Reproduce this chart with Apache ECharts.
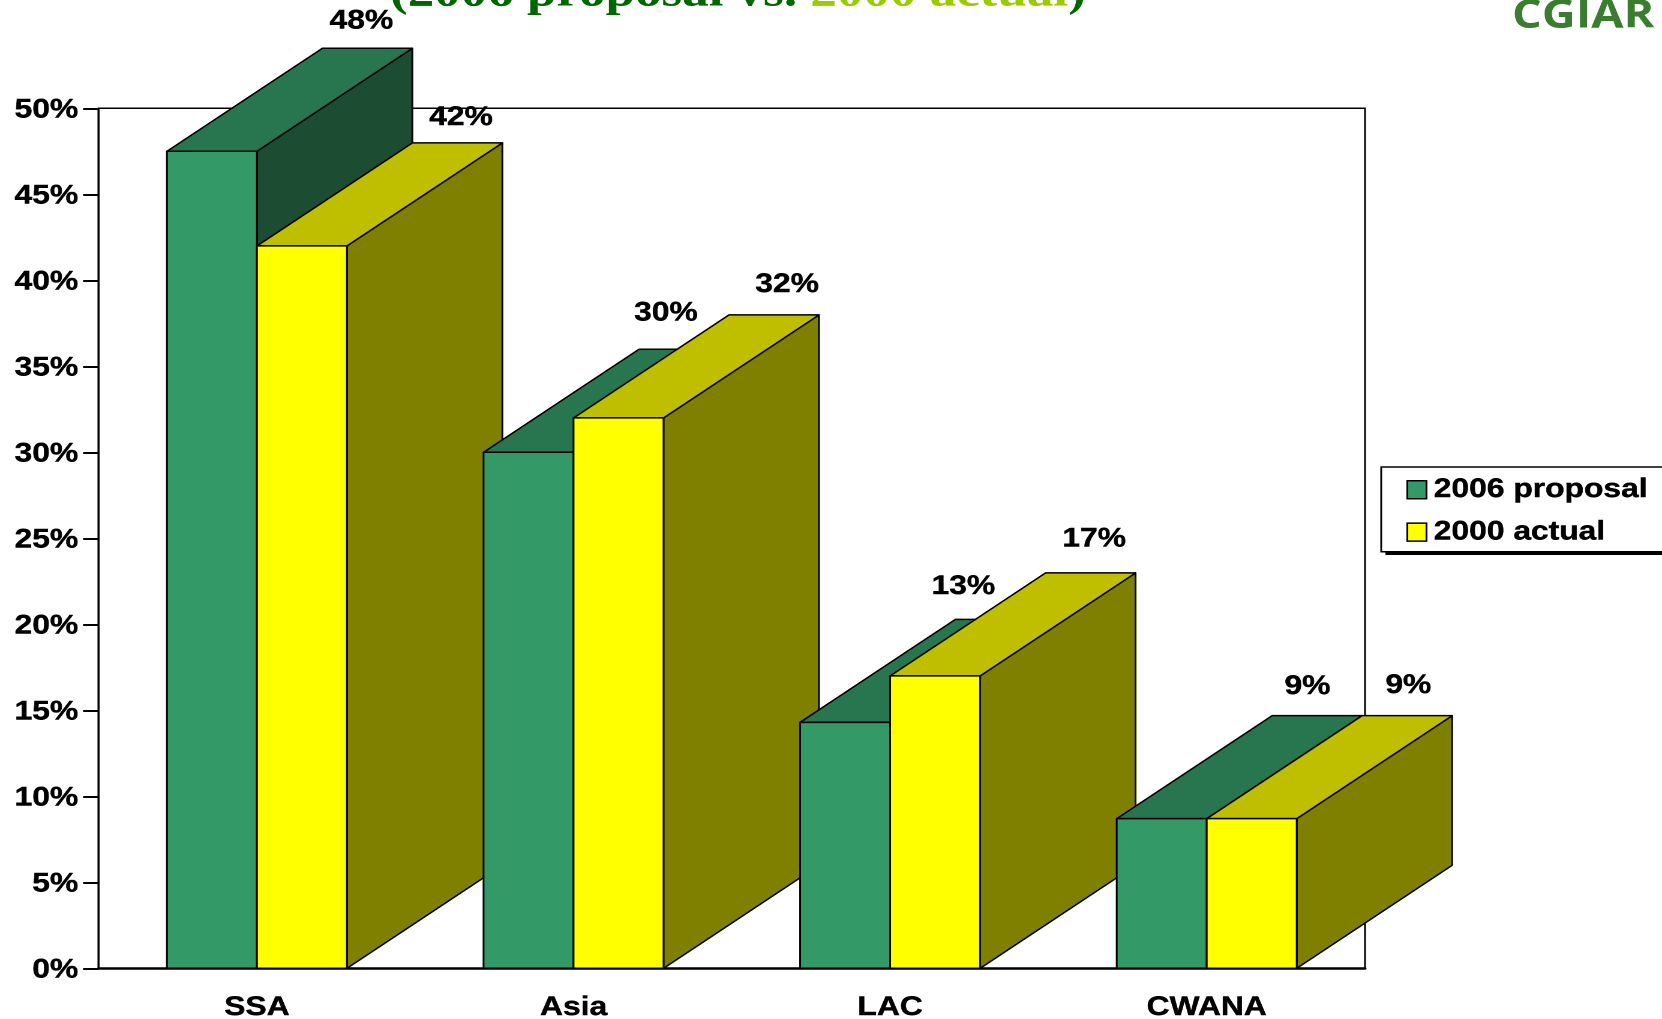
<!DOCTYPE html>
<html>
<head>
<meta charset="utf-8">
<style>
html,body{margin:0;padding:0;background:#fff;overflow:hidden;width:1662px;height:1019px}
#c{width:1385px;height:1019px;transform-origin:0 0;transform:scaleX(1.2)}
</style>
<script src="https://cdn.jsdelivr.net/npm/echarts@6/dist/echarts.min.js"></script>
</head>
<body>
<div id="c"></div>
<script>
const categories = ['SSA', 'Asia', 'LAC', 'CWANA'];
const yTicks = { min: 0, max: 50, interval: 5 };
const proposal2006 = [47.5, 30, 14.3, 8.7];
const actual2000 = [42, 32, 17, 8.7];
const proposalLabels = ['48%', '30%', '13%', '9%'];
const actualLabels = ['42%', '32%', '17%', '9%'];

const FONT = '"Liberation Sans", Arial, sans-serif';
const FS = 26.5;
const HEAVY = { textBorderColor: '#000', textBorderWidth: 0.4 };
const BAR_FRAC = 0.2843, DX = 129.5, DY = 103;
// label nudges relative to the centre of the bar's back top edge
const proposalNudge = [[-5, -27], [-15, -36], [-31, -32.5], [-8, -29]];
const actualNudge = [[3, -25], [11, -30], [3, -33.5], [1, -30]];

function barRenderer(side, palette, labels, nudges, layer) {
  return function (params, api) {
    const i = api.value(0);
    const top = api.coord([i, api.value(1)]);
    const base = api.coord([i, 0]);
    const w = api.size([1, 0])[0] * BAR_FRAC;
    const x0 = side < 0 ? top[0] - w : top[0];
    const x1 = x0 + w, yt = top[1], yb = base[1];
    const z = i * 10 + layer;
    const st = (fill) => ({ fill, stroke: '#000', lineWidth: 1.5, lineJoin: 'round' });
    const poly = (points, fill) => ({ type: 'polygon', z2: z, shape: { points }, style: st(fill) });
    return {
      type: 'group',
      children: [
        poly([[x1, yt], [x1 + DX, yt - DY], [x1 + DX, yb - DY], [x1, yb]], palette.side),
        poly([[x0, yt], [x0 + DX, yt - DY], [x1 + DX, yt - DY], [x1, yt]], palette.top),
        poly([[x0, yb], [x0, yt], [x1, yt], [x1, yb]], palette.front),
        {
          type: 'text', z2: 1000,
          style: {
            text: labels[i],
            x: x0 + DX + w / 2 + nudges[i][0],
            y: yt - DY + nudges[i][1],
            align: 'center', verticalAlign: 'middle',
            fontFamily: FONT, fontWeight: 'bold', fontSize: FS, fill: '#000',
            stroke: '#000', lineWidth: 0.4
          }
        }
      ]
    };
  };
}

const chart = echarts.init(document.getElementById('c'), null, { renderer: 'canvas', devicePixelRatio: 2 });
chart.setOption({
  animation: false,
  backgroundColor: '#fff',
  title: {
    left: 325, top: -28, padding: 0,
    text: '{a|(2006 proposal vs. }{b|2000 actual}{a|)}',
    textStyle: {
      rich: {
        a: { fontFamily: '"Liberation Serif", serif', fontWeight: 'bold', fontSize: 44.2, color: '#006600' },
        b: { fontFamily: '"Liberation Serif", serif', fontWeight: 'bold', fontSize: 44.2, color: '#99cc00' }
      }
    }
  },
  graphic: [
    {
      type: 'text', left: 1260, top: -3,
      style: { text: 'CGIAR', fontFamily: '"Open Sans", sans-serif', fontWeight: 700, fontSize: 39, fill: '#3a7d2f' }
    },
    {
      type: 'rect', z: 0, shape: { x: 1154.5, y: 480, width: 400, height: 75 },
      style: { fill: '#000' }
    }
  ],
  grid: {
    outerBoundsMode: 'none',
    left: 82.2, top: 108.3, width: 1055.3, height: 860,
    show: true, backgroundColor: 'transparent', borderColor: '#000', borderWidth: 1.5
  },
  xAxis: {
    type: 'category', data: categories,
    axisTick: { show: false },
    axisLine: { lineStyle: { color: '#000', width: 2.5 } },
    axisLabel: Object.assign({ margin: 26, color: '#000', fontFamily: FONT, fontWeight: 'bold', fontSize: FS }, HEAVY)
  },
  yAxis: {
    type: 'value', min: yTicks.min, max: yTicks.max, interval: yTicks.interval,
    splitLine: { show: false },
    axisLine: { show: true, lineStyle: { color: '#000', width: 1.5 } },
    axisTick: { show: true, length: 13, lineStyle: { color: '#000', width: 2 } },
    axisLabel: Object.assign({ margin: 17, color: '#000', fontFamily: FONT, fontWeight: 'bold', fontSize: FS, formatter: '{value}%', verticalAlign: 'top', lineHeight: 4 }, HEAVY)
  },
  legend: {
    orient: 'vertical', left: 1151, top: 467,
    padding: [9, 40, 6, 21], itemGap: 15, itemWidth: 16, itemHeight: 18, icon: 'rect',
    backgroundColor: '#fff', borderColor: '#000', borderWidth: 1.5,
    textStyle: Object.assign({ color: '#000', fontFamily: FONT, fontWeight: 'bold', fontSize: FS, padding: [3, 0, 0, 1] }, HEAVY),
    data: [
      { name: '2006 proposal', itemStyle: { color: '#339966', borderColor: '#000', borderWidth: 1.5 } },
      { name: '2000 actual', itemStyle: { color: '#ffff00', borderColor: '#000', borderWidth: 1.5 } }
    ]
  },
  series: [
    {
      name: '2006 proposal', type: 'custom', itemStyle: { color: '#339966' },
      encode: { x: 0, y: 1 },
      data: proposal2006.map((v, i) => [i, v]),
      renderItem: barRenderer(-1, { front: '#339966', top: '#287650', side: '#1c4d33' }, proposalLabels, proposalNudge, 1)
    },
    {
      name: '2000 actual', type: 'custom', itemStyle: { color: '#ffff00' },
      encode: { x: 0, y: 1 },
      data: actual2000.map((v, i) => [i, v]),
      renderItem: barRenderer(1, { front: '#ffff00', top: '#bfbf00', side: '#808000' }, actualLabels, actualNudge, 2)
    }
  ]
});
</script>
</body>
</html>
